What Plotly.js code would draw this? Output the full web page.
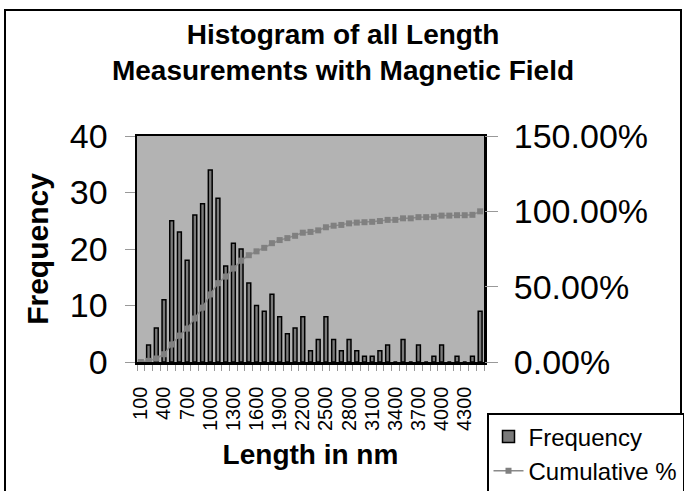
<!DOCTYPE html>
<html>
<head>
<meta charset="utf-8">
<script src="https://cdn.plot.ly/plotly-3.0.1.min.js"></script>
<style>
html,body{margin:0;padding:0;background:#fff;}
#chart{width:686px;height:491px;}
</style>
</head>
<body>
<div id="chart"></div>
<script>
var categories = ['100','200','300','400','500','600','700','800','900','1000',
  '1100','1200','1300','1400','1500','1600','1700','1800','1900','2000',
  '2100','2200','2300','2400','2500','2600','2700','2800','2900','3000',
  '3100','3200','3300','3400','3500','3600','3700','3800','3900','4000',
  '4100','4200','4300','4400','More'];
var frequency = [0,3,6,11,25,23,18,26,28,34,
  29,17,21,20,14,10,9,12,8,5,
  6,8,2,4,8,4,2,4,2,1,
  1,2,3,0,4,0,3,0,1,3,
  0,1,0,1,9];
var cumulative = [0.0000,0.0077,0.0232,0.0515,0.1160,0.1753,0.2216,0.2887,0.3608,0.4485,
  0.5232,0.5670,0.6211,0.6727,0.7088,0.7345,0.7577,0.7887,0.8093,0.8222,
  0.8376,0.8582,0.8634,0.8737,0.8943,0.9046,0.9098,0.9201,0.9253,0.9278,
  0.9304,0.9356,0.9433,0.9433,0.9536,0.9536,0.9613,0.9613,0.9639,0.9716,
  0.9716,0.9742,0.9742,0.9768,1.0000];
var labelStep = 3;

var xIdx = categories.map(function(c,i){return i;});
var tickVals = [], tickText = [];
for (var i = 0; i < categories.length; i += labelStep) {
  if (categories[i] !== 'More') { tickVals.push(i); tickText.push(categories[i]); }
}

var FONT = 'Liberation Sans, Arial, sans-serif';

var traces = [
  {
    type: 'bar', name: 'Frequency', x: xIdx, y: frequency,
    width: 0.5,
    marker: {color: '#7a7a7a', line: {color: '#000000', width: 1.5}},
    yaxis: 'y', hoverinfo: 'x+y'
  },
  {
    type: 'scatter', mode: 'lines+markers', name: 'Cumulative %', x: xIdx, y: cumulative,
    yaxis: 'y2',
    line: {color: '#8a8a8a', width: 1.5},
    marker: {symbol: 'square', size: 6, color: '#808080'}
  }
];

var W = 686, H = 491;
var L = 137, R = 484, T = 136, B = 362;
function px2x(p){ return (p - L) / (R - L); }
function py2y(p){ return (B - p) / (B - T); }

var layout = {
  width: W, height: H,
  margin: {l: L, r: W - R, t: T, b: H - B, pad: 0, autoexpand: false},
  paper_bgcolor: '#ffffff',
  plot_bgcolor: '#b3b3b3',
  font: {family: FONT, color: '#000000'},
  title: {
    text: 'Histogram of all Length<br>Measurements with Magnetic Field',
    font: {family: FONT, size: 28, weight: 'bold', color: '#000'},
    x: 0.5, xref: 'container', xanchor: 'center',
    y: 1 - 44/H, yref: 'container', yanchor: 'middle'
  },
  showlegend: true,
  legend: {
    xref: 'container', yref: 'container',
    x: 487/W, y: 1 - 413/H, xanchor: 'left', yanchor: 'top',
    bgcolor: '#ffffff', bordercolor: '#000000', borderwidth: 1.5,
    font: {family: FONT, size: 24, color: '#000'},
    entrywidth: 220, entrywidthmode: 'pixels',
    traceorder: 'normal'
  },
  xaxis: {
    range: [-0.5, categories.length - 0.5],
    tickmode: 'array', tickvals: tickVals, ticktext: tickText,
    tickangle: -90,
    tickfont: {family: FONT, size: 20, color: '#000'},
    ticks: '', ticklabelstandoff: 14,
    minor: {tickmode: 'linear', tick0: -0.5, dtick: 1, ticks: 'outside', ticklen: 6, tickcolor: '#999999', tickwidth: 1},
    showgrid: false, zeroline: false,
    showline: true, linecolor: '#000000', linewidth: 2.5, mirror: true,
    title: {text: 'Length in nm', font: {family: FONT, size: 28, weight: 'bold', color: '#000'}, standoff: 15},
    fixedrange: true
  },
  yaxis: {
    range: [0, 40], tickmode: 'array', tickvals: [0,10,20,30,40],
    ticks: 'outside', ticklen: 10, tickcolor: '#999999', tickwidth: 1,
    ticklabelstandoff: 10,
    tickfont: {family: FONT, size: 34, color: '#000'},
    showgrid: false, zeroline: false,
    showline: true, linecolor: '#000000', linewidth: 2.5, mirror: true,
    title: {text: 'Frequency', font: {family: FONT, size: 30, weight: 'bold', color: '#000'}, standoff: 13},
    fixedrange: true
  },
  yaxis2: {
    overlaying: 'y', side: 'right',
    range: [0, 1.5], tickmode: 'array', tickvals: [0, 0.5, 1.0, 1.5],
    tickformat: '.2%',
    ticks: 'outside', ticklen: 13, tickcolor: '#999999', tickwidth: 1,
    ticklabelstandoff: 9,
    tickfont: {family: FONT, size: 34, color: '#000'},
    showgrid: false, zeroline: false, showline: false,
    fixedrange: true
  },
  shapes: [
    {type: 'rect', xref: 'paper', yref: 'paper',
     x0: px2x(5), x1: px2x(681), y0: py2y(520), y1: py2y(10),
     line: {color: '#000000', width: 2}, fillcolor: 'rgba(0,0,0,0)', layer: 'below'}
  ]
};

Plotly.newPlot('chart', traces, layout, {displayModeBar: false, staticPlot: true});
</script>
</body>
</html>
